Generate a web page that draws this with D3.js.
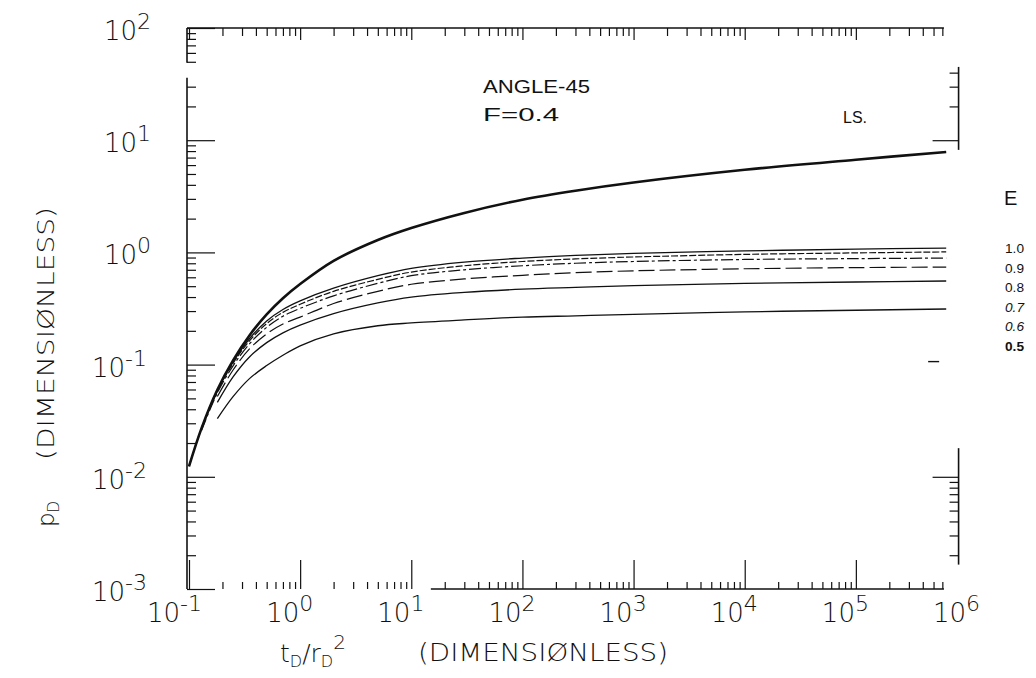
<!DOCTYPE html>
<html>
<head>
<meta charset="utf-8">
<script src="https://cdn.jsdelivr.net/npm/d3@7"></script>
<style>
  body { margin: 0; background: #fff; }
  svg { display: block; }
  text { font-family: "DejaVu Sans", "Liberation Sans", Arial, sans-serif; font-weight: 200; fill: #111; }
  text.note { font-family: "Liberation Sans", Arial, sans-serif; font-weight: normal; }
</style>
</head>
<body>
<svg id="chart"></svg>
<script>
// dimensionless time tD/rD^2 where curves were read
var tValues = [0.1, 0.13, 0.18, 0.25, 0.35, 0.5, 0.7, 1, 2, 5, 10, 30, 100, 300, 1e3, 1e4, 1e5, 6.5e5];

// line source (LS.)
var lineSource = [0.0124, 0.0273, 0.0597, 0.1097, 0.182, 0.280, 0.390, 0.522, 0.84, 1.29, 1.65, 2.25, 2.95, 3.55, 4.2, 5.45, 6.7, 7.85];

// curves for E
var e10 = [0.0124, 0.0272, 0.059, 0.106, 0.170, 0.245, 0.31, 0.37, 0.48, 0.62, 0.72, 0.82, 0.89, 0.94, 0.98, 1.03, 1.07, 1.09];
var e09 = [null, 0.027, 0.058, 0.103, 0.163, 0.232, 0.292, 0.345, 0.45, 0.575, 0.668, 0.76, 0.83, 0.875, 0.91, 0.96, 0.99, 1.01];
var e08 = [null, 0.026, 0.056, 0.098, 0.153, 0.215, 0.27, 0.317, 0.41, 0.53, 0.62, 0.70, 0.76, 0.80, 0.83, 0.865, 0.88, 0.89];
var e07 = [null, null, 0.052, 0.090, 0.138, 0.188, 0.23, 0.265, 0.35, 0.45, 0.52, 0.58, 0.625, 0.66, 0.685, 0.715, 0.732, 0.74];
var e06 = [null, null, 0.046, 0.078, 0.117, 0.157, 0.192, 0.225, 0.285, 0.355, 0.40, 0.44, 0.47, 0.487, 0.505, 0.53, 0.545, 0.556];
var e05 = [null, null, 0.033, 0.052, 0.075, 0.098, 0.121, 0.147, 0.188, 0.222, 0.235, 0.25, 0.265, 0.272, 0.28, 0.295, 0.305, 0.313];

var eLabels = ["1.0", "0.9", "0.8", "0.7", "0.6", "0.5"];
var xDecades = [-1, 0, 1, 2, 3, 4, 5, 6];
var yDecades = [-3, -2, -1, 0, 1, 2];

var W = 1036, H = 678;
var svg = d3.select("#chart").attr("width", W).attr("height", H);

var x = d3.scaleLog().domain([0.1, 1e6]).range([189, 967]);
var y = d3.scaleLog().domain([1e-3, 1e2]).range([589, 28]);

var xLeft = 187, xEnd = x(6.2e5), xRight = x(8.4e5);
var yTop = y(1e2), yBot = y(1e-3);

var isDecade = function(v) {
    var l = Math.log10(v);
    return Math.abs(l - Math.round(l)) < 1e-6;
};

// axis frame, drawn in pieces like the original plot
var frame = [
    [xLeft, yTop, xEnd, yTop],
    [xLeft, yTop, xLeft, y(50) + 1],
    [xLeft, y(36), xLeft, yBot],
    [x(15), yBot, xEnd, yBot],
    [xRight, y(45), xRight, y(8.2)],
    [xRight, y(0.018), xRight, y(1.65e-3)]
];
svg.append("g").selectAll("line").data(frame).join("line")
    .attr("x1", function(d) { return d[0]; }).attr("y1", function(d) { return d[1]; })
    .attr("x2", function(d) { return d[2]; }).attr("y2", function(d) { return d[3]; })
    .attr("stroke", "#111").attr("stroke-width", 1.6);

var xTicks = x.ticks().filter(function(v) { return v <= 6.2e5; });
var yTicks = y.ticks();

var styleAxis = function(g, majorLen, minorLen, horiz) {
    g.select(".domain").remove();
    g.selectAll(".tick line")
        .attr("stroke", "#111").attr("stroke-width", 1.2)
        .each(function(d) {
            var len = isDecade(d) ? majorLen : minorLen;
            d3.select(this).attr(horiz ? "y2" : "x2", len);
        });
};

// bottom: ticks pointing up
svg.append("g").attr("transform", "translate(0," + yBot + ")")
    .call(d3.axisBottom(x).tickValues(xTicks).tickFormat(""))
    .call(function(g) { styleAxis(g, -29, -7, true); });

// top: ticks pointing down
svg.append("g").attr("transform", "translate(0," + yTop + ")")
    .call(d3.axisTop(x).tickValues(xTicks).tickFormat(""))
    .call(function(g) { styleAxis(g, 12, 8, true); });

// left: ticks pointing right, none in the broken part
svg.append("g").attr("transform", "translate(" + xLeft + ",0)")
    .call(d3.axisRight(y).tickValues(yTicks.filter(function(v) { return v < 36 || v >= 50; })).tickFormat(""))
    .call(function(g) { styleAxis(g, 28, 9, false); });

// right: ticks pointing left only where the axis is drawn
var rightTicks = yTicks.filter(function(v) {
    return (v >= 10 && v <= 40) || (v >= 2e-3 && v <= 1e-2);
});
svg.append("g").attr("transform", "translate(" + xRight + ",0)")
    .call(d3.axisLeft(y).tickValues(rightTicks).tickFormat(""))
    .call(function(g) { styleAxis(g, -26, -9, false); });
svg.append("line")
    .attr("x1", x(5.5e5) - 10).attr("x2", x(5.5e5) + 1)
    .attr("y1", y(0.1) - 3).attr("y2", y(0.1) - 3)
    .attr("stroke", "#111").attr("stroke-width", 1.4);

// tick labels 10^n
svg.append("g").selectAll("text").data(xDecades).join("text")
    .attr("x", function(d) { return x(Math.pow(10, d)) - (d < 0 ? 42 : 34); })
    .attr("y", 622)
    .style("font-size", "26px")
    .each(function(d) {
        var t = d3.select(this);
        t.append("tspan").text("10");
        t.append("tspan").attr("dy", -11).style("font-size", "22px").text(d < 0 ? "-" + (-d) : d);
    });

svg.append("g").selectAll("text").data(yDecades).join("text")
    .attr("x", function(d) { return d < 0 ? 92 : 104; })
    .attr("y", function(d) { return y(Math.pow(10, d)) + 12; })
    .style("font-size", "26px")
    .each(function(d) {
        var t = d3.select(this);
        t.append("tspan").text("10");
        t.append("tspan").attr("dy", -11).style("font-size", "22px").text(d < 0 ? "-" + (-d) : d);
    });

// curves
var series = [
    { v: e10, w: 1.3, dash: null },
    { v: e09, w: 1.2, dash: "7,2" },
    { v: e08, w: 1.2, dash: "12,3,3,3" },
    { v: e07, w: 1.2, dash: "16,5" },
    { v: e06, w: 1.3, dash: null },
    { v: e05, w: 1.3, dash: null },
    { v: lineSource, w: 2.6, dash: null }
];
var line = d3.line()
    .defined(function(d) { return d[1] !== null; })
    .x(function(d) { return x(d[0]); })
    .y(function(d) { return y(d[1]); })
    .curve(d3.curveCatmullRom.alpha(0.5));

svg.append("g").selectAll("path").data(series).join("path")
    .attr("d", function(s) { return line(tValues.map(function(t, i) { return [t, s.v[i]]; })); })
    .attr("fill", "none")
    .attr("stroke", "#111")
    .attr("stroke-width", function(s) { return s.w; })
    .attr("stroke-dasharray", function(s) { return s.dash; });

// annotations
svg.append("text").attr("class", "note").attr("x", 483).attr("y", 93).style("font-size", "18px")
    .attr("textLength", 107).attr("lengthAdjust", "spacingAndGlyphs").text("ANGLE-45");
svg.append("text").attr("class", "note").attr("x", 483).attr("y", 121).style("font-size", "18px")
    .attr("textLength", 76).attr("lengthAdjust", "spacingAndGlyphs").text("F=0.4");
svg.append("text").attr("class", "note").attr("x", 843).attr("y", 123).style("font-size", "16px").text("LS.");

svg.append("text").attr("class", "note").attr("x", 1004).attr("y", 205).style("font-size", "20px").text("E");
var legendStyle = [
    { style: "normal", weight: "normal" },
    { style: "normal", weight: "normal" },
    { style: "normal", weight: "normal" },
    { style: "italic", weight: "normal" },
    { style: "italic", weight: "normal" },
    { style: "normal", weight: "bold" }
];
svg.append("g").selectAll("text").data(eLabels).join("text")
    .attr("class", "note")
    .attr("x", 1005)
    .attr("y", function(d, i) { return 253 + i * 19.6; })
    .style("font-size", "13px")
    .style("font-style", function(d, i) { return legendStyle[i].style; })
    .style("font-weight", function(d, i) { return legendStyle[i].weight; })
    .attr("textLength", 19).attr("lengthAdjust", "spacingAndGlyphs")
    .text(function(d) { return d; });

// axis titles
var xt = svg.append("text").attr("x", 280).attr("y", 662).style("font-size", "25px");
xt.append("tspan").text("t");
xt.append("tspan").attr("dy", 5).style("font-size", "16px").text("D");
xt.append("tspan").attr("dy", -5).text("/r");
xt.append("tspan").attr("dy", 5).style("font-size", "16px").text("D");
xt.append("tspan").attr("dy", -18).style("font-size", "20px").text("2");
svg.append("text").attr("x", 418).attr("y", 661).style("font-size", "25px")
    .attr("textLength", 250).attr("lengthAdjust", "spacingAndGlyphs").text("(DIMENSIØNLESS)");

var yt = svg.append("g").attr("transform", "translate(54,0) rotate(-90)");
yt.append("text").attr("x", -460).attr("y", 0).style("font-size", "23px")
    .attr("textLength", 253).attr("lengthAdjust", "spacingAndGlyphs").text("(DIMENSIØNLESS)");
var pd = yt.append("text").attr("x", -527).attr("y", 0).style("font-size", "23px");
pd.append("tspan").text("p");
pd.append("tspan").attr("dy", 5).style("font-size", "15px").text("D");
</script>
</body>
</html>
